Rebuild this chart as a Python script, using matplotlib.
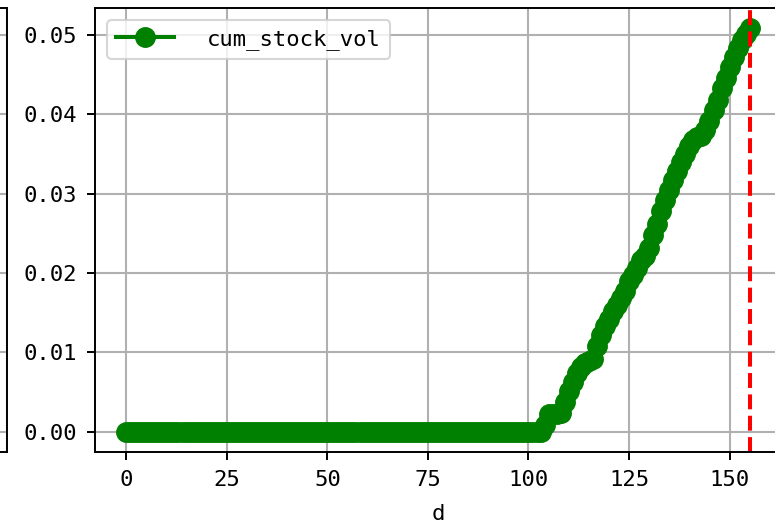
import numpy as np
import matplotlib
matplotlib.use("Agg")
import matplotlib.pyplot as plt

plt.rcParams['font.family'] = ['DejaVu Sans Mono']
plt.rcParams['font.size'] = 16

# cumulative stock volume per day
flat_days = [0.0] * 104
rising = [0.0008, 0.0022, 0.0023, 0.0023, 0.0024,
          0.0038, 0.0052, 0.0063, 0.0074, 0.0082, 0.0087, 0.0089, 0.0092,
          0.0108, 0.0122, 0.0133, 0.0142, 0.0152, 0.0160, 0.0168, 0.0178,
          0.0190, 0.0198, 0.0206, 0.0216, 0.0222, 0.0232, 0.0248, 0.0262,
          0.0278, 0.0292, 0.0305, 0.0317, 0.0328, 0.0340, 0.0350, 0.0360,
          0.0368, 0.0372, 0.0373, 0.0380, 0.0392, 0.0405, 0.0418, 0.0433,
          0.0446, 0.0460, 0.0472, 0.0483, 0.0493, 0.0501, 0.0509]
cum_stock_vol = flat_days + rising
d = np.arange(len(cum_stock_vol))
last_day = 155

fig = plt.figure(figsize=(7.75, 5.23), dpi=100)

# neighbouring panel, only its right edge is in view
ax0 = fig.add_axes([-0.85, 0.1358, 0.859, 0.849])
ax0.set_ylim(-0.00254, 0.0534)
ax0.set_yticks([0.0, 0.01, 0.02, 0.03, 0.04, 0.05])
ax0.grid(True, color='#b0b0b0', linewidth=1.5)
for s in ax0.spines.values():
    s.set_linewidth(1.4)
ax0.tick_params(labelleft=False, labelbottom=False, length=0)

ax = fig.add_axes([0.1226, 0.1358, 0.885, 0.849])
ax.plot(d, cum_stock_vol, marker='o', color='green', linewidth=2.9,
        markersize=14, label='cum_stock_vol')
ax.axvline(last_day, color='red', linestyle='--', linewidth=2.9)

ax.set_xlim(-7.75, 162.75)
ax.set_ylim(-0.00254, 0.0534)
ax.set_xticks([0, 25, 50, 75, 100, 125, 150])
ax.set_yticks([0.0, 0.01, 0.02, 0.03, 0.04, 0.05])
ax.yaxis.set_major_formatter(matplotlib.ticker.FormatStrFormatter('%.2f'))
ax.grid(True, color='#b0b0b0', linewidth=1.5)
ax.tick_params(length=5.8, width=1.4, pad=7)
for s in ax.spines.values():
    s.set_linewidth(1.4)
ax.set_xlabel('d', labelpad=10)

leg = ax.legend(loc='upper left', handlelength=2.6, handletextpad=1.5,
                borderaxespad=0.55)
leg.get_frame().set_linewidth(1.5)

fig.savefig('out.png', dpi=100)
